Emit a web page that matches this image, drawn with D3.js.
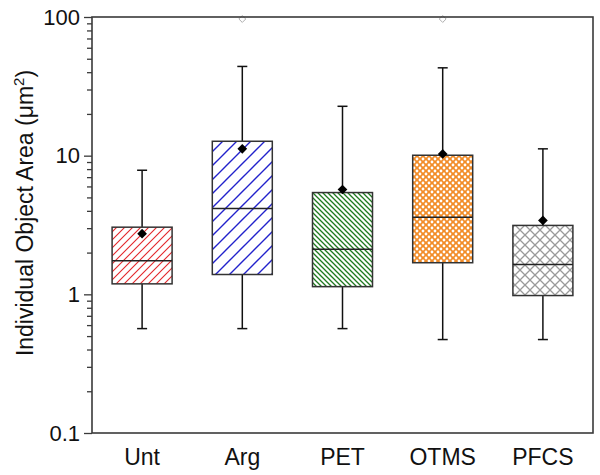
<!DOCTYPE html>
<html>
<head>
<meta charset="utf-8">
<script src="https://cdn.jsdelivr.net/npm/d3@7"></script>
<style>
  html, body { margin: 0; padding: 0; background: #fff; }
  svg { display: block; font-family: "Liberation Sans", Arial, sans-serif; }
</style>
</head>
<body>
<svg id="chart" width="600" height="475"></svg>
<script>
// ---- data ----
const categories = ["Unt", "Arg", "PET", "OTMS", "PFCS"];
const whiskerLow  = [0.566, 0.566, 0.566, 0.472, 0.472];
const q1          = [1.19, 1.39, 1.136, 1.69, 0.98];
const median      = [1.75, 4.16, 2.11, 3.60, 1.64];
const q3          = [3.05, 12.7, 5.42, 10.07, 3.14];
const whiskerHigh = [7.85, 44.0, 22.7, 43.0, 11.2];
const mean        = [2.74, 11.2, 5.7, 10.3, 3.41];
const maxMarker   = [null, 100, null, 100, null];
const yTickLabels = [0.1, 1, 10, 100];
const yLabel = "Individual Object Area (\u03bcm";

const svg = d3.select("#chart");
const mLeft = 92, mRight = 593, mTop = 17, mBottom = 433;

const x = d3.scaleBand().domain(categories).range([mLeft, mRight]).padding(0);
const y = d3.scaleLog().domain([0.1, 100]).range([mBottom, mTop]);
const boxW = 60;

// ---- patterns ----
const defs = svg.append("defs");
function hatch(id, p, color, dir, sw) {
  const pat = defs.append("pattern").attr("id", id).attr("patternUnits", "userSpaceOnUse")
    .attr("width", p).attr("height", p);
  pat.append("rect").attr("width", p).attr("height", p).attr("fill", "#fff");
  const d = dir === "/"
    ? `M0,${p} L${p},0 M${-p/2},${p/2} L${p/2},${-p/2} M${p/2},${p*1.5} L${p*1.5},${p/2}`
    : `M0,0 L${p},${p} M${-p/2},${p/2} L${p/2},${p*1.5} M${p/2},${-p/2} L${p*1.5},${p/2}`;
  pat.append("path").attr("d", d).attr("stroke", color).attr("stroke-width", sw).attr("fill", "none");
}
hatch("pUnt", 8, "#e3262a", "/", 1.1);
hatch("pArg", 14, "#2222cc", "/", 1.4);
hatch("pPET", 5, "#1f7a1f", "\\", 1.3);
// OTMS: orange with white dots
(function() {
  const p = 6;
  const pat = defs.append("pattern").attr("id", "pOTMS").attr("patternUnits", "userSpaceOnUse")
    .attr("width", p).attr("height", p);
  pat.append("rect").attr("width", p).attr("height", p).attr("fill", "#f28c28");
  [[0,0],[p,0],[0,p],[p,p],[p/2,p/2]].forEach(([cx,cy]) =>
    pat.append("circle").attr("cx", cx).attr("cy", cy).attr("r", 1.4).attr("fill", "#fff"));
})();
// PFCS: gray crosshatch
(function() {
  const p = 10;
  const pat = defs.append("pattern").attr("id", "pPFCS").attr("patternUnits", "userSpaceOnUse")
    .attr("width", p).attr("height", p);
  pat.append("rect").attr("width", p).attr("height", p).attr("fill", "#fff");
  pat.append("path").attr("d", `M0,0 L${p},${p} M0,${p} L${p},0`)
    .attr("stroke", "#9a9a9a").attr("stroke-width", 1.3).attr("fill", "none");
})();
const fills = ["url(#pUnt)", "url(#pArg)", "url(#pPET)", "url(#pOTMS)", "url(#pPFCS)"];

const cx = c => x(c) + x.bandwidth() / 2;

// ---- boxes ----
const g = svg.append("g");
categories.forEach((c, i) => {
  const xc = cx(c);
  g.append("line").attr("x1", xc).attr("x2", xc).attr("y1", y(q3[i])).attr("y2", y(whiskerHigh[i]))
    .attr("stroke", "#111").attr("stroke-width", 1.5);
  g.append("line").attr("x1", xc).attr("x2", xc).attr("y1", y(q1[i])).attr("y2", y(whiskerLow[i]))
    .attr("stroke", "#111").attr("stroke-width", 1.5);
  g.append("line").attr("x1", xc - 5).attr("x2", xc + 5).attr("y1", y(whiskerHigh[i])).attr("y2", y(whiskerHigh[i]))
    .attr("stroke", "#111").attr("stroke-width", 1.5);
  g.append("line").attr("x1", xc - 5).attr("x2", xc + 5).attr("y1", y(whiskerLow[i])).attr("y2", y(whiskerLow[i]))
    .attr("stroke", "#111").attr("stroke-width", 1.5);
  g.append("rect").attr("x", xc - boxW / 2).attr("width", boxW)
    .attr("y", y(q3[i])).attr("height", y(q1[i]) - y(q3[i]))
    .attr("fill", fills[i]).attr("stroke", "#333").attr("stroke-width", 1.5);
  g.append("line").attr("x1", xc - boxW / 2).attr("x2", xc + boxW / 2)
    .attr("y1", y(median[i])).attr("y2", y(median[i])).attr("stroke", "#222").attr("stroke-width", 1.5);
  g.append("path").attr("d", d3.symbol(d3.symbolDiamond2, 60)())
    .attr("transform", `translate(${xc},${y(mean[i])})`).attr("fill", "#000");
  if (maxMarker[i] != null) {
    g.append("path").attr("d", d3.symbol(d3.symbolDiamond2, 30)())
      .attr("transform", `translate(${xc},${y(maxMarker[i]) + 2})`)
      .attr("fill", "none").attr("stroke", "#999").attr("stroke-width", 0.8);
  }
});

// ---- frame ----
svg.append("rect").attr("x", mLeft).attr("y", mTop).attr("width", mRight - mLeft).attr("height", mBottom - mTop)
  .attr("fill", "none").attr("stroke", "#3a3a3a").attr("stroke-width", 1.6);

// ---- y axis ----
const minorTicks = [];
[0.1, 1, 10].forEach(d => { for (let k = 2; k <= 9; k++) minorTicks.push(d * k); });
const yMinor = svg.append("g").attr("transform", `translate(${mLeft},0)`)
  .call(d3.axisLeft(y).tickValues(minorTicks).tickSize(5).tickFormat(""));
const yMajor = svg.append("g").attr("transform", `translate(${mLeft},0)`)
  .call(d3.axisLeft(y).tickValues(yTickLabels).tickSize(8).tickPadding(4).tickFormat(d => d3.format("~g")(d)));
[yMinor, yMajor].forEach(a => {
  a.select(".domain").remove();
  a.selectAll("line").attr("stroke", "#3a3a3a").attr("stroke-width", 1.3);
});
yMajor.selectAll("text").attr("font-size", 22).attr("fill", "#111")
  .attr("font-family", "Liberation Sans, Arial, sans-serif");

// ---- x labels ----
svg.append("g").selectAll("text").data(categories).join("text")
  .attr("x", d => cx(d)).attr("y", 465).attr("text-anchor", "middle")
  .attr("font-size", 23).attr("fill", "#111").text(d => d);

// ---- y title ----
const t = svg.append("text").attr("transform", "translate(33,213) rotate(-90)")
  .attr("text-anchor", "middle").attr("font-size", 23).attr("fill", "#111");
t.append("tspan").text(yLabel);
t.append("tspan").attr("font-size", 15).attr("dy", -9).text("2");
t.append("tspan").attr("dy", 9).text(")");
</script>
</body>
</html>
